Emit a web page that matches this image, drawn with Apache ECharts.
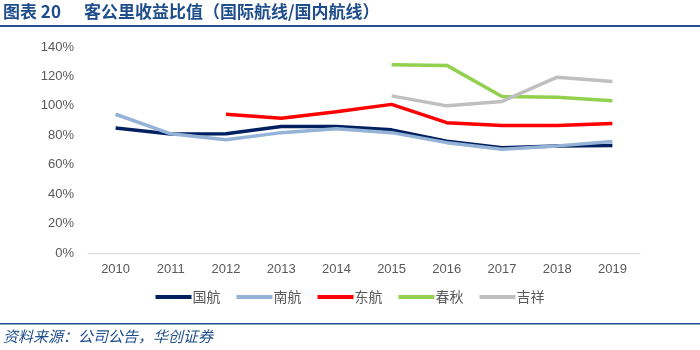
<!DOCTYPE html>
<html><head><meta charset="utf-8">
<script src="https://cdn.jsdelivr.net/npm/echarts@6/dist/echarts.min.js"></script>
<style>html,body{margin:0;padding:0;background:#fff}#c{width:700px;height:350px}</style>
</head><body><div id="c"></div>
<script>
const years = ['2010','2011','2012','2013','2014','2015','2016','2017','2018','2019'];
const guohang = [85, 80.8, 81, 86, 86, 83.7, 76, 71.6, 72.8, 73];
const nanhang = [94.3, 81, 76.9, 81.8, 84.4, 81.8, 75, 70.5, 72.8, 75.7];
const donghang = [null, null, 94.3, 91.6, 96, 101, 88.6, 86.6, 86.6, 88];
const chunqiu = [null, null, null, null, null, 127.9, 127.5, 106.3, 105.9, 103.4];
const jixiang = [null, null, null, null, null, 106.8, 100, 103, 119.5, 116.5];
const seriesNames = ['国航','南航','东航','春秋','吉祥'];
const colors = ['#002060','#95B3D7','#FF0000','#92D050','#BFBFBF'];
const datas = [guohang, nanhang, donghang, chunqiu, jixiang];
const chart = echarts.init(document.getElementById('c'));
chart.setOption({
  animation:false,
  graphic:[
    {type:'text',left:3,top:3,style:{text:'图表 20',font:'bold 17px "Noto Sans CJK SC",sans-serif',fill:'#1F4E8C'}},
    {type:'text',left:84,top:3,style:{text:'客公里收益比值（国际航线/国内航线）',font:'bold 17px "Noto Sans CJK SC",sans-serif',fill:'#1F4E8C'}},
    {type:'rect',shape:{x:0,y:25,width:700,height:2},style:{fill:'#1F4E8C'}},
    {type:'rect',shape:{x:0,y:323,width:700,height:1.5},style:{fill:'#1F4E8C'}},
    {type:'text',left:3,top:329,style:{text:'资料来源：公司公告，华创证券',font:'italic 15px "Noto Sans CJK SC",sans-serif',fill:'#1F4E8C'}}
  ],
  grid:{left:88,right:60,top:47,bottom:97},
  legend:{bottom:41,left:'center',itemWidth:36,itemHeight:4,itemGap:16,icon:'rect',
    textStyle:{color:'#595959',fontSize:14,fontFamily:'"Noto Sans CJK SC",sans-serif',padding:[0,0,0,-4]},
    data:seriesNames},
  xAxis:{type:'category',data:years,boundaryGap:true,
    axisLine:{lineStyle:{color:'#D9D9D9'}},axisTick:{show:false},
    axisLabel:{color:'#595959',fontSize:13,margin:10,fontFamily:'Arial,"Liberation Sans",sans-serif'}},
  yAxis:{type:'value',min:0,max:140,interval:20,
    axisLine:{show:false},axisTick:{show:false},splitLine:{show:false},
    axisLabel:{color:'#595959',fontSize:13,formatter:'{value}%',margin:14,fontFamily:'Arial,"Liberation Sans",sans-serif'}},
  series: seriesNames.map((n,i)=>({name:n,type:'line',data:datas[i],symbol:'none',
    lineStyle:{color:colors[i],width:3.5},itemStyle:{color:colors[i]},connectNulls:false}))
});
</script></body></html>
